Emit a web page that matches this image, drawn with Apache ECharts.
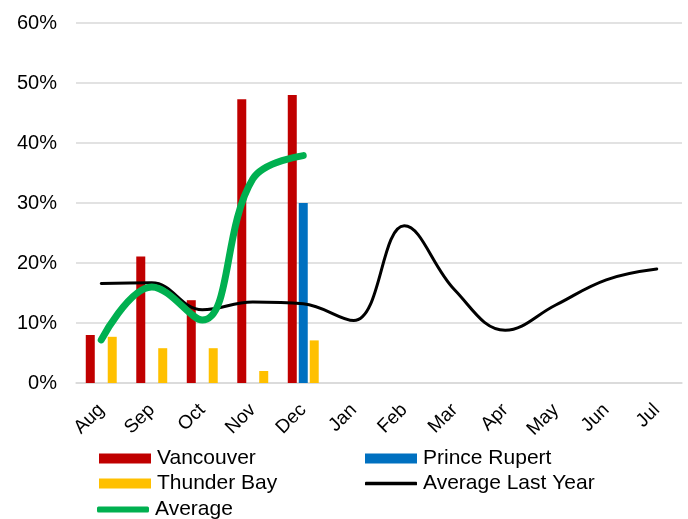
<!DOCTYPE html>
<html>
<head>
<meta charset="utf-8">
<script src="https://cdn.jsdelivr.net/npm/echarts@6/dist/echarts.min.js"></script>
<style>
  html, body { margin: 0; padding: 0; background: #fff; }
  #chart { width: 688px; height: 519px; }
</style>
</head>
<body>
<div id="chart"></div>
<script>
// months, Aug -> Jul
var months = ['Aug', 'Sep', 'Oct', 'Nov', 'Dec', 'Jan', 'Feb', 'Mar', 'Apr', 'May', 'Jun', 'Jul'];
// values in percent
var vancouver = [8.0, 21.1, 13.8, 47.3, 48.0, null, null, null, null, null, null, null];
var princeRupert = [null, null, null, null, 30.0, null, null, null, null, null, null, null];
var thunderBay = [7.7, 5.8, 5.8, 2.0, 7.1, null, null, null, null, null, null, null];
var avgLastYear = [16.6, 16.7, 12.2, 13.5, 13.2, 10.4, 26.2, 15.5, 8.8, 13.0, 17.2, 19.0];
var average = [7.2, 16.0, 10.5, 34.0, 37.9, null, null, null, null, null, null, null];

var yTicks = [0, 10, 20, 30, 40, 50, 60];

var chart = echarts.init(document.getElementById('chart'));
var font = 'Arial, "Liberation Sans", sans-serif';

// one legend box per item so the two columns line up like the original
function legendItem(name, icon, h, left, centerY) {
  return {
    left: left, top: centerY - 12, height: 24,
    padding: 0,
    itemWidth: 52, itemHeight: h, itemGap: 0,
    textStyle: { fontSize: 21, fontFamily: font, color: '#000', padding: [0, 0, 0, 1] },
    data: [{ name: name, icon: icon }]
  };
}

var option = {
  animation: false,
  grid: { left: 76, right: 6, top: 23, bottom: 136 },
  legend: [
    legendItem('Vancouver', 'rect', 10, 99, 460),
    legendItem('Thunder Bay', 'rect', 10, 99, 485),
    legendItem('Average', 'roundRect', 6, 97, 511),
    legendItem('Prince Rupert', 'rect', 10, 365, 460),
    legendItem('Average Last Year', 'roundRect', 3.5, 365, 485)
  ],
  xAxis: {
    type: 'category',
    data: months,
    axisLine: { lineStyle: { color: '#D9D9D9', width: 1.5 } },
    axisTick: { show: false },
    axisLabel: { rotate: 45, fontSize: 19, fontFamily: font, color: '#000', margin: 24, interval: 0 }
  },
  yAxis: {
    type: 'value',
    min: yTicks[0], max: yTicks[yTicks.length - 1], interval: 10,
    axisLine: { show: false },
    axisTick: { show: false },
    splitLine: { lineStyle: { color: '#D9D9D9', width: 1.5 } },
    axisLabel: { formatter: '{value}%', fontSize: 20, fontFamily: font, color: '#000', margin: 19 }
  },
  series: [
    {
      name: 'Vancouver', type: 'bar', data: vancouver,
      barWidth: 9, barGap: '22%',
      itemStyle: { color: '#C00000' }
    },
    {
      name: 'Prince Rupert', type: 'bar', data: princeRupert,
      barWidth: 9, barGap: '22%',
      itemStyle: { color: '#0070C0' }
    },
    {
      name: 'Thunder Bay', type: 'bar', data: thunderBay,
      barWidth: 9, barGap: '22%',
      itemStyle: { color: '#FFC000' }
    },
    {
      name: 'Average Last Year', type: 'line', data: avgLastYear,
      smooth: 0.4, symbol: 'none',
      lineStyle: { color: '#000', width: 3, cap: 'round' },
      itemStyle: { color: '#000' }
    },
    {
      name: 'Average', type: 'line', data: average,
      smooth: 0.4, symbol: 'none', connectNulls: false,
      lineStyle: { color: '#00B050', width: 7, cap: 'round' },
      itemStyle: { color: '#00B050' }
    }
  ]
};

chart.setOption(option);
</script>
</body>
</html>
